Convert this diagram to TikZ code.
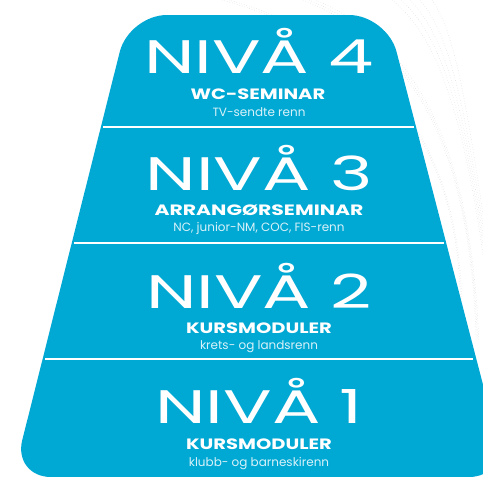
\documentclass[tikz,border=0pt]{standalone}
\usepackage{fontspec}
\usepackage{graphicx}
\setmainfont{Poppins}
\newfontfamily\titlefont{Poppins}
\usetikzlibrary{positioning}
\definecolor{nsfblue}{RGB}{0,168,212}
\definecolor{lightline}{RGB}{226,226,226}

\begin{document}
\begin{tikzpicture}[x=1pt, y=-1pt,
  level/.style = {fill=nsfblue, rounded corners=38pt},
  sep/.style = {draw=white, line width=2pt},
  title/.style = {text=white, anchor=base, inner sep=0pt, font=\titlefont\fontsize{47}{47}\selectfont},
  sub/.style = {text=white, anchor=base, inner sep=0pt, font=\bfseries\fontsize{15}{15}\selectfont},
  desc/.style = {text=white!85!nsfblue, anchor=base, inner sep=0pt, font=\fontsize{12}{12}\selectfont},
  swoosh/.style = {draw=lightline, line width=0.6pt, dotted}]
\useasboundingbox (0,0) rectangle (483,477);
\clip (0,0) rectangle (483,477);

% background lines
\foreach \s in {222, 229, 303, 309, 316, 392, 401, 410, 420, 432}
  \draw[swoosh] (\s,0) .. controls ({\s+0.55*(483-\s)},40) and (470,130) .. ({460+0.2*(\s-222)},340);

% pyramid
\fill[level] (129,15) -- (387,15) -- (507,477) -- (13,477) -- cycle;
\draw[sep] (103,127) -- (414,127);
\draw[sep] (74,243) -- (444,243);
\draw[sep] (45,359) -- (473,359);

% level 4
\node[title] (t4) at (259,73) {\scalebox{1.53}[1]{NIVÅ 4}};
\node[sub] (s4) at (258,99) {\scalebox{1.3}[1]{WC-SEMINAR}};
\node[desc] (d4) at (259,116) {TV-sendte renn};

% level 3
\node[title] (t3) at (259,190) {\scalebox{1.53}[1]{NIVÅ 3}};
\node[sub] (s3) at (259,215) {\scalebox{1.36}[1]{ARRANGØRSEMINAR}};
\node[desc] (d3) at (259,231) {NC, junior-NM, COC, FIS-renn};

% level 2
\node[title] (t2) at (259,308) {\scalebox{1.53}[1]{NIVÅ 2}};
\node[sub] (s2) at (259,333) {\scalebox{1.3}[1]{KURSMODULER}};
\node[desc] (d2) at (259,349) {krets- og landsrenn};

% level 1
\node[title] (t1) at (259,423) {\scalebox{1.53}[1]{NIVÅ 1}};
\node[sub] (s1) at (259,449) {\scalebox{1.3}[1]{KURSMODULER}};
\node[desc] (d1) at (259,466) {klubb- og barneskirenn};
\end{tikzpicture}
\end{document}
